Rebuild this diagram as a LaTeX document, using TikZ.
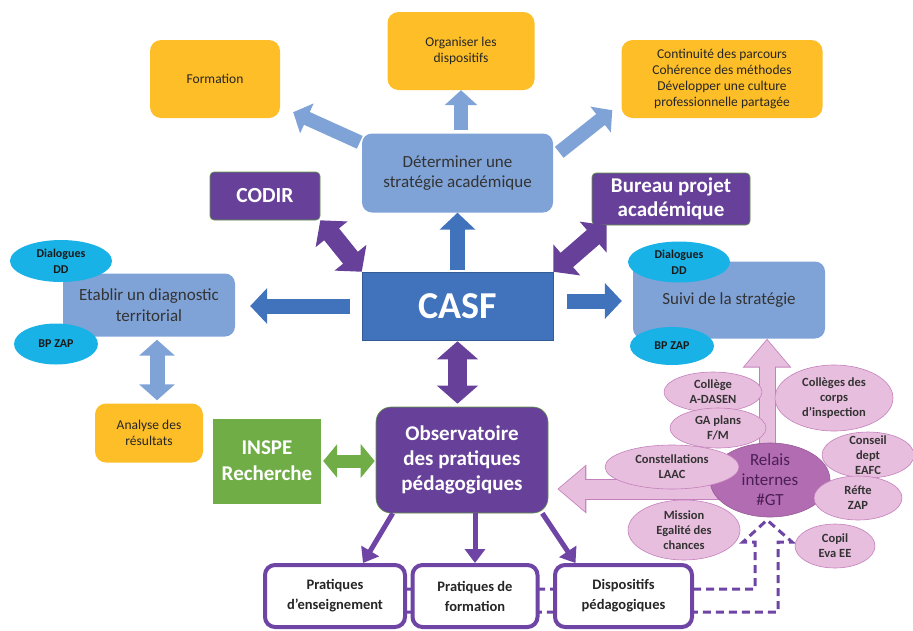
\documentclass[tikz,border=0pt]{standalone}
\usepackage{fontspec}
\setmainfont{Carlito}
\usetikzlibrary{arrows.meta,shapes.geometric}

\definecolor{orangefill}{RGB}{253,190,40}
\definecolor{skyfill}{RGB}{128,163,215}
\definecolor{casffill}{RGB}{65,114,188}
\definecolor{violetfill}{RGB}{103,65,153}
\definecolor{violetline}{RGB}{110,68,165}
\definecolor{leafedge}{RGB}{96,150,70}
\definecolor{leaffill}{RGB}{112,173,71}
\definecolor{cyanfill}{RGB}{25,178,230}
\definecolor{pinkfill}{RGB}{232,190,222}
\definecolor{pinkedge}{RGB}{196,128,188}
\definecolor{relaisfill}{RGB}{178,108,178}
\definecolor{relaistext}{RGB}{75,30,85}

\pgfdeclarelayer{back}
\pgfsetlayers{back,main}

\tikzset{
  orangebox/.style={rectangle, rounded corners=11pt, fill=orangefill, align=center,
    text=black!85, font=\fontsize{13.5}{16}\selectfont},
  bluebox/.style={rectangle, rounded corners=10pt, fill=skyfill, align=center, text=black!80},
  violetbox/.style={rectangle, rounded corners=4pt, fill=violetfill, draw=leafedge,
    line width=0.6pt, align=center, text=white, font=\bfseries},
  cyanblob/.style={ellipse, fill=cyanfill, inner sep=0pt, align=center, text=black!90,
    font=\bfseries\fontsize{12}{16}\selectfont},
  pinkblob/.style={ellipse, fill=pinkfill, draw=pinkedge, line width=0.6pt, inner sep=-6pt,
    align=center, text=black!80, font=\bfseries\fontsize{12.5}{15}\selectfont},
  whitebox/.style={rectangle, rounded corners=10pt, fill=white, draw=violetline, line width=4pt,
    align=center, text=black!85, font=\bfseries\fontsize{14.5}{20}\selectfont},
  casfarrow/.style={draw=casffill, line width=15pt, -{Triangle[length=17pt,width=35pt]}},
  skyarrow/.style={draw=skyfill, line width=14pt, -{Triangle[length=15pt,width=32pt]}},
  skydouble/.style={draw=skyfill, line width=15pt,
    {Triangle[length=16pt,width=35pt]}-{Triangle[length=16pt,width=35pt]}},
  violetdouble/.style={draw=violetfill, line width=19pt,
    {Triangle[length=18pt,width=40pt]}-{Triangle[length=18pt,width=40pt]}},
  leafdouble/.style={draw=leaffill, line width=13pt,
    {Triangle[length=14pt,width=33pt]}-{Triangle[length=14pt,width=33pt]}},
  violetlink/.style={draw=violetline, line width=5pt, -{Triangle[length=14pt,width=20pt]}},
  dashlink/.style={draw=violetline, line width=3pt, dash pattern=on 8pt off 5pt},
  pinkrim/.style={draw=pinkedge, -{Triangle[length=29pt,width=47pt]}},
  pinkcore/.style={draw=pinkfill, -{Triangle[length=26.5pt,width=43pt]}, shorten >=1.3pt},
}

\begin{document}
\begin{tikzpicture}[x=1pt, y=-1pt]
\useasboundingbox (0,0) rectangle (913,630);

% top goals
\node[orangebox, minimum width=130pt, minimum height=78pt] (formation) at (215,79) {Formation};
\node[orangebox, minimum width=147pt, minimum height=78pt] (organiser) at (461,51) {Organiser les\\dispositifs};
\node[orangebox, minimum width=201pt, minimum height=78pt] (continuite) at (722,79)
  {Continuité des parcours\\Cohérence des méthodes\\Développer une culture\\professionnelle partagée};

\node[bluebox, minimum width=191pt, minimum height=79pt, font=\fontsize{17}{20.5}\selectfont] (determ) at (457.5,173)
  {Déterminer une\\stratégie académique};

\node[violetbox, minimum width=110pt, minimum height=48pt, font=\bfseries\fontsize{21.5}{24}\selectfont] (codir) at (265,196) {CODIR};
\node[violetbox, minimum width=158pt, minimum height=52pt, font=\bfseries\fontsize{21}{24}\selectfont] (bureau) at (671,199)
  {Bureau projet\\académique};

% centre
\node[rectangle, fill=casffill, draw=casffill!80!black, line width=0.5pt, minimum width=191pt, minimum height=68pt,
  text=white, font=\bfseries\fontsize{38}{42}\selectfont] (casf) at (457.5,306) {CASF};

% left side
\node[bluebox, minimum width=172pt, minimum height=63pt, font=\fontsize{17}{20.5}\selectfont] (etablir) at (149,305)
  {Etablir un diagnostic\\territorial};
\node[cyanblob, minimum width=102pt, minimum height=42pt] (dialog1) at (61,261) {Dialogues\\DD};
\node[cyanblob, minimum width=84pt, minimum height=41pt] (bpzap1) at (56,344) {BP ZAP};
\node[orangebox, minimum width=108pt, minimum height=59pt] (analyse) at (149,433) {Analyse des\\résultats};

% right side
\node[bluebox, minimum width=192pt, minimum height=77pt, font=\fontsize{17}{20.5}\selectfont] (suivi) at (729,300)
  {Suivi de la stratégie};
\node[cyanblob, minimum width=102pt, minimum height=41pt] (dialog2) at (679,262) {Dialogues\\DD};
\node[cyanblob, minimum width=84pt, minimum height=38pt] (bpzap2) at (672,346) {BP ZAP};

% lower part
\node[rectangle, fill=leaffill, minimum width=108pt, minimum height=85pt, align=center, text=white,
  font=\bfseries\fontsize{21}{26}\selectfont] (inspe) at (267,461) {INSPE\\Recherche};
\node[violetbox, rounded corners=15pt, minimum width=172pt, minimum height=106pt,
  font=\bfseries\fontsize{21}{25}\selectfont] (obs) at (462,460) {Observatoire\\des pratiques\\pédagogiques};

\node[whitebox, minimum width=140pt, minimum height=62pt] (pe) at (335,596) {Pratiques\\d’enseignement};
\node[whitebox, minimum width=125pt, minimum height=62pt] (pf) at (475,596) {Pratiques de\\formation};
\node[whitebox, minimum width=137pt, minimum height=62pt] (dp) at (623.5,596) {Dispositifs\\pédagogiques};

% relais cluster
\node[ellipse, fill=relaisfill, draw=relaisfill!85!black, line width=0.6pt, inner sep=-6pt, minimum width=120pt,
  minimum height=74pt, align=center, text=relaistext, font=\fontsize{17}{20}\selectfont] (relais) at (770,480)
  {Relais\\internes\\\#GT};
\node[pinkblob, minimum width=98pt, minimum height=40pt] (colA) at (713,392) {Collège\\A-DASEN};
\node[pinkblob, minimum width=96pt, minimum height=40pt] (gaplans) at (718,428) {GA plans\\F/M};
\node[pinkblob, minimum width=134pt, minimum height=44pt] (constell) at (672,467) {Constellations\\LAAC};
\node[pinkblob, minimum width=118pt, minimum height=66pt] (colcorps) at (834,398) {Collèges des\\corps\\d’inspection};
\node[pinkblob, minimum width=92pt, minimum height=46pt] (conseil) at (868,455) {Conseil\\dept\\EAFC};
\node[pinkblob, minimum width=88pt, minimum height=44pt] (refte) at (858,498) {Réfte\\ZAP};
\node[pinkblob, minimum width=80pt, minimum height=44pt] (copil) at (835,546) {Copil\\Eva EE};
\node[pinkblob, minimum width=112pt, minimum height=60pt] (mission) at (684,530) {Mission\\Egalité des\\chances};

% arrows
\draw[skyarrow] ([xshift=-2pt,yshift=-9pt]determ.north west) -- ([xshift=13pt,yshift=6pt]formation.south east);
\draw[skyarrow, shorten <=3pt] (organiser.south |- determ.north) -- (organiser.south);
\draw[skyarrow] ([xshift=6pt,yshift=-19pt]determ.north east) -- ([xshift=-9pt,yshift=8pt]continuite.south west);

\draw[violetdouble] (codir.south east) -- (casf.north west);
\draw[violetdouble] ([xshift=15pt]bureau.south west) -- (casf.north east);
\draw[casfarrow, shorten <=2pt] (casf.north) -- (determ.south);
\draw[casfarrow, shorten <=12pt, shorten >=15pt] (casf.west) -- (casf.west -| etablir.east);
\draw[casfarrow, shorten <=14pt, shorten >=11pt] ([yshift=5pt]casf.east) -- ([yshift=5pt]casf.east -| suivi.west);
\draw[violetdouble, shorten <=1pt, shorten >=3pt] (casf.south) -- (casf.south |- obs.north);

\draw[skydouble, shorten <=3pt, shorten >=3pt] ([xshift=8pt]etablir.south) -- ([xshift=8pt]etablir.south |- analyse.north);
\draw[leafdouble, shorten <=2pt, shorten >=1pt] (inspe.east) -- (inspe.east -| obs.west);

\draw[violetlink] ([xshift=17pt]obs.south west) -- ([xshift=28pt]pe.north);
\draw[violetlink] (obs.south -| pf.north) -- (pf.north);
\draw[violetlink] ([xshift=-6pt]obs.south east) -- ([xshift=-48pt]dp.north);

\begin{pgfonlayer}{back}
  \draw[pinkrim, line width=17pt] ([xshift=-3pt]relais.center) -- ([xshift=-3pt]relais.center |- suivi.south);
  \draw[pinkcore, line width=15pt] ([xshift=-3pt]relais.center) -- ([xshift=-3pt]relais.center |- suivi.south);
  \draw[pinkrim, line width=21pt, shorten >=9pt] ([yshift=-9pt]relais.center) -- ([yshift=-9pt]relais.center -| obs.east);
  \draw[pinkcore, line width=19pt, shorten >=10.3pt] ([yshift=-9pt]relais.center) -- ([yshift=-9pt]relais.center -| obs.east);
  % dashed return to the relais
  \coordinate (d1) at (755,589);
  \coordinate (d2) at (755,542);
  \coordinate (d3) at (743,542);
  \coordinate (dtip) at (767,520);
  \coordinate (d4) at (792,542);
  \coordinate (d5) at (778,542);
  \coordinate (d6) at (778,612);
  \draw[dashlink] (pe.east |- d1) -- (d1) -- (d2) -- (d3) -- (dtip) -- (d4) -- (d5) -- (d6) -- (pe.east |- d6);
\end{pgfonlayer}
\end{tikzpicture}
\end{document}
